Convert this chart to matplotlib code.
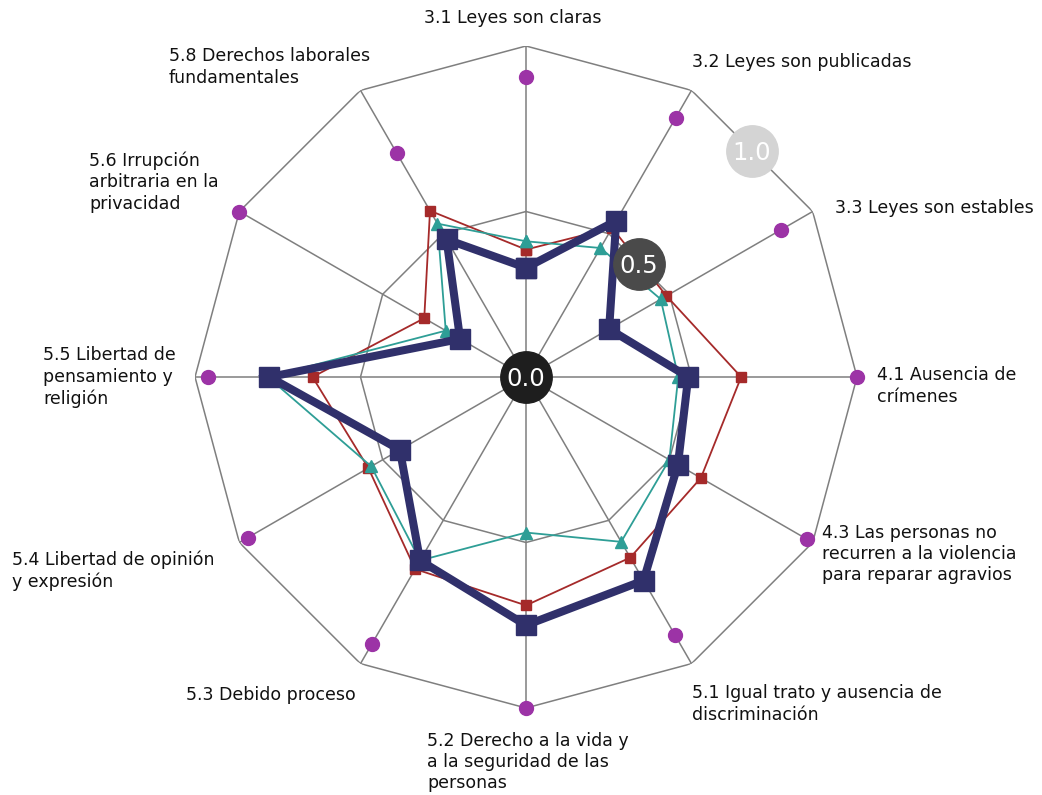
import numpy as np
import matplotlib
matplotlib.use("Agg")
import matplotlib.pyplot as plt

categories = [
    "3.1 Leyes son claras",
    "3.2 Leyes son publicadas",
    "3.3 Leyes son estables",
    "4.1 Ausencia de\ncrímenes",
    "4.3 Las personas no\nrecurren a la violencia\npara reparar agravios",
    "5.1 Igual trato y ausencia de\ndiscriminación",
    "5.2 Derecho a la vida y\na la seguridad de las\npersonas",
    "5.3 Debido proceso",
    "5.4 Libertad de opinión\ny expresión",
    "5.5 Libertad de\npensamiento y\nreligión",
    "5.6 Irrupción\narbitraria en la\nprivacidad",
    "5.8 Derechos laborales\nfundamentales",
]

navy_values = [0.33, 0.545, 0.29, 0.49, 0.53, 0.71, 0.75, 0.64, 0.44, 0.775, 0.23, 0.48]
red_values = [0.385, 0.52, 0.49, 0.65, 0.61, 0.63, 0.69, 0.67, 0.55, 0.645, 0.355, 0.58]
teal_values = [0.41, 0.45, 0.47, 0.46, 0.50, 0.575, 0.47, 0.64, 0.54, 0.78, 0.28, 0.535]
purple_values = [0.905, 0.905, 0.89, 1.0, 0.98, 0.90, 1.0, 0.93, 0.97, 0.96, 1.0, 0.78]

ring_levels = [0.5, 1.0]
ring_labels = ["0.0", "0.5", "1.0"]

W, H = 1042, 795
fig = plt.figure(figsize=(W / 100, H / 100), dpi=100)

cx, cy, R = 526, 377, 331
ax = fig.add_axes([(cx - R) / W, (H - cy - R) / H, 2 * R / W, 2 * R / H], polar=True)
ax.set_theta_zero_location("N")
ax.set_theta_direction(-1)
ax.set_ylim(0, 1)
ax.axis("off")

n = len(categories)
angles = np.linspace(0, 2 * np.pi, n, endpoint=False)
closed = np.concatenate([angles, angles[:1]])

def close(v):
    return np.concatenate([v, v[:1]])

grid_color = "#7f7f7f"
for lvl in ring_levels:
    ax.plot(closed, [lvl] * (n + 1), color=grid_color, lw=1.1, zorder=1)
for a in angles:
    ax.plot([a, a], [0, 1], color=grid_color, lw=1.1, zorder=1)

ax.plot(angles, purple_values, linestyle="none", marker="o", markersize=10,
        color="#9c33a6", zorder=2, clip_on=False)
ax.plot(closed, close(np.array(red_values)), color="#a52a2a", lw=1.3,
        marker="s", markersize=7, zorder=3, clip_on=False)
ax.plot(closed, close(np.array(teal_values)), color="#2e9e96", lw=1.3,
        marker="^", markersize=8, zorder=4, clip_on=False)
ax.plot(closed, close(np.array(navy_values)), color="#30306b", lw=5.8,
        marker="s", markersize=14.5, zorder=5, clip_on=False, solid_joinstyle="miter")

# Scale badges
badge_angle = np.deg2rad(45)
badge_r = [0.0] + [lvl * np.cos(np.deg2rad(15)) for lvl in ring_levels]
badge_face = ["#1e1e1e", "#4a4a4a", "#d4d4d4"]
for r, lab, fc in zip(badge_r, ring_labels, badge_face):
    ax.plot([badge_angle], [r], marker="o", markersize=37, color=fc,
            linestyle="none", zorder=10, clip_on=False)
    ax.text(badge_angle, r, lab, color="white", fontsize=17.5, ha="center",
            va="center_baseline", zorder=11)

# Category labels (pixel anchors: x, vertical centre of text block)
label_pos = [
    (513, 18, "center"),
    (692, 62, "left"),
    (835, 208, "left"),
    (877, 386, "left"),
    (822, 554, "left"),
    (692, 704, "left"),
    (427, 762, "left"),
    (186, 695, "left"),
    (12, 571, "left"),
    (43, 377, "left"),
    (89, 182, "left"),
    (169, 67, "left"),
]
for text, (x, y, ha) in zip(categories, label_pos):
    fig.text(x / W, 1 - y / H, text, ha=ha, va="center", fontsize=12.5,
             color="#111111", linespacing=1.25, family="DejaVu Sans")

fig.savefig("out.png", dpi=100)
